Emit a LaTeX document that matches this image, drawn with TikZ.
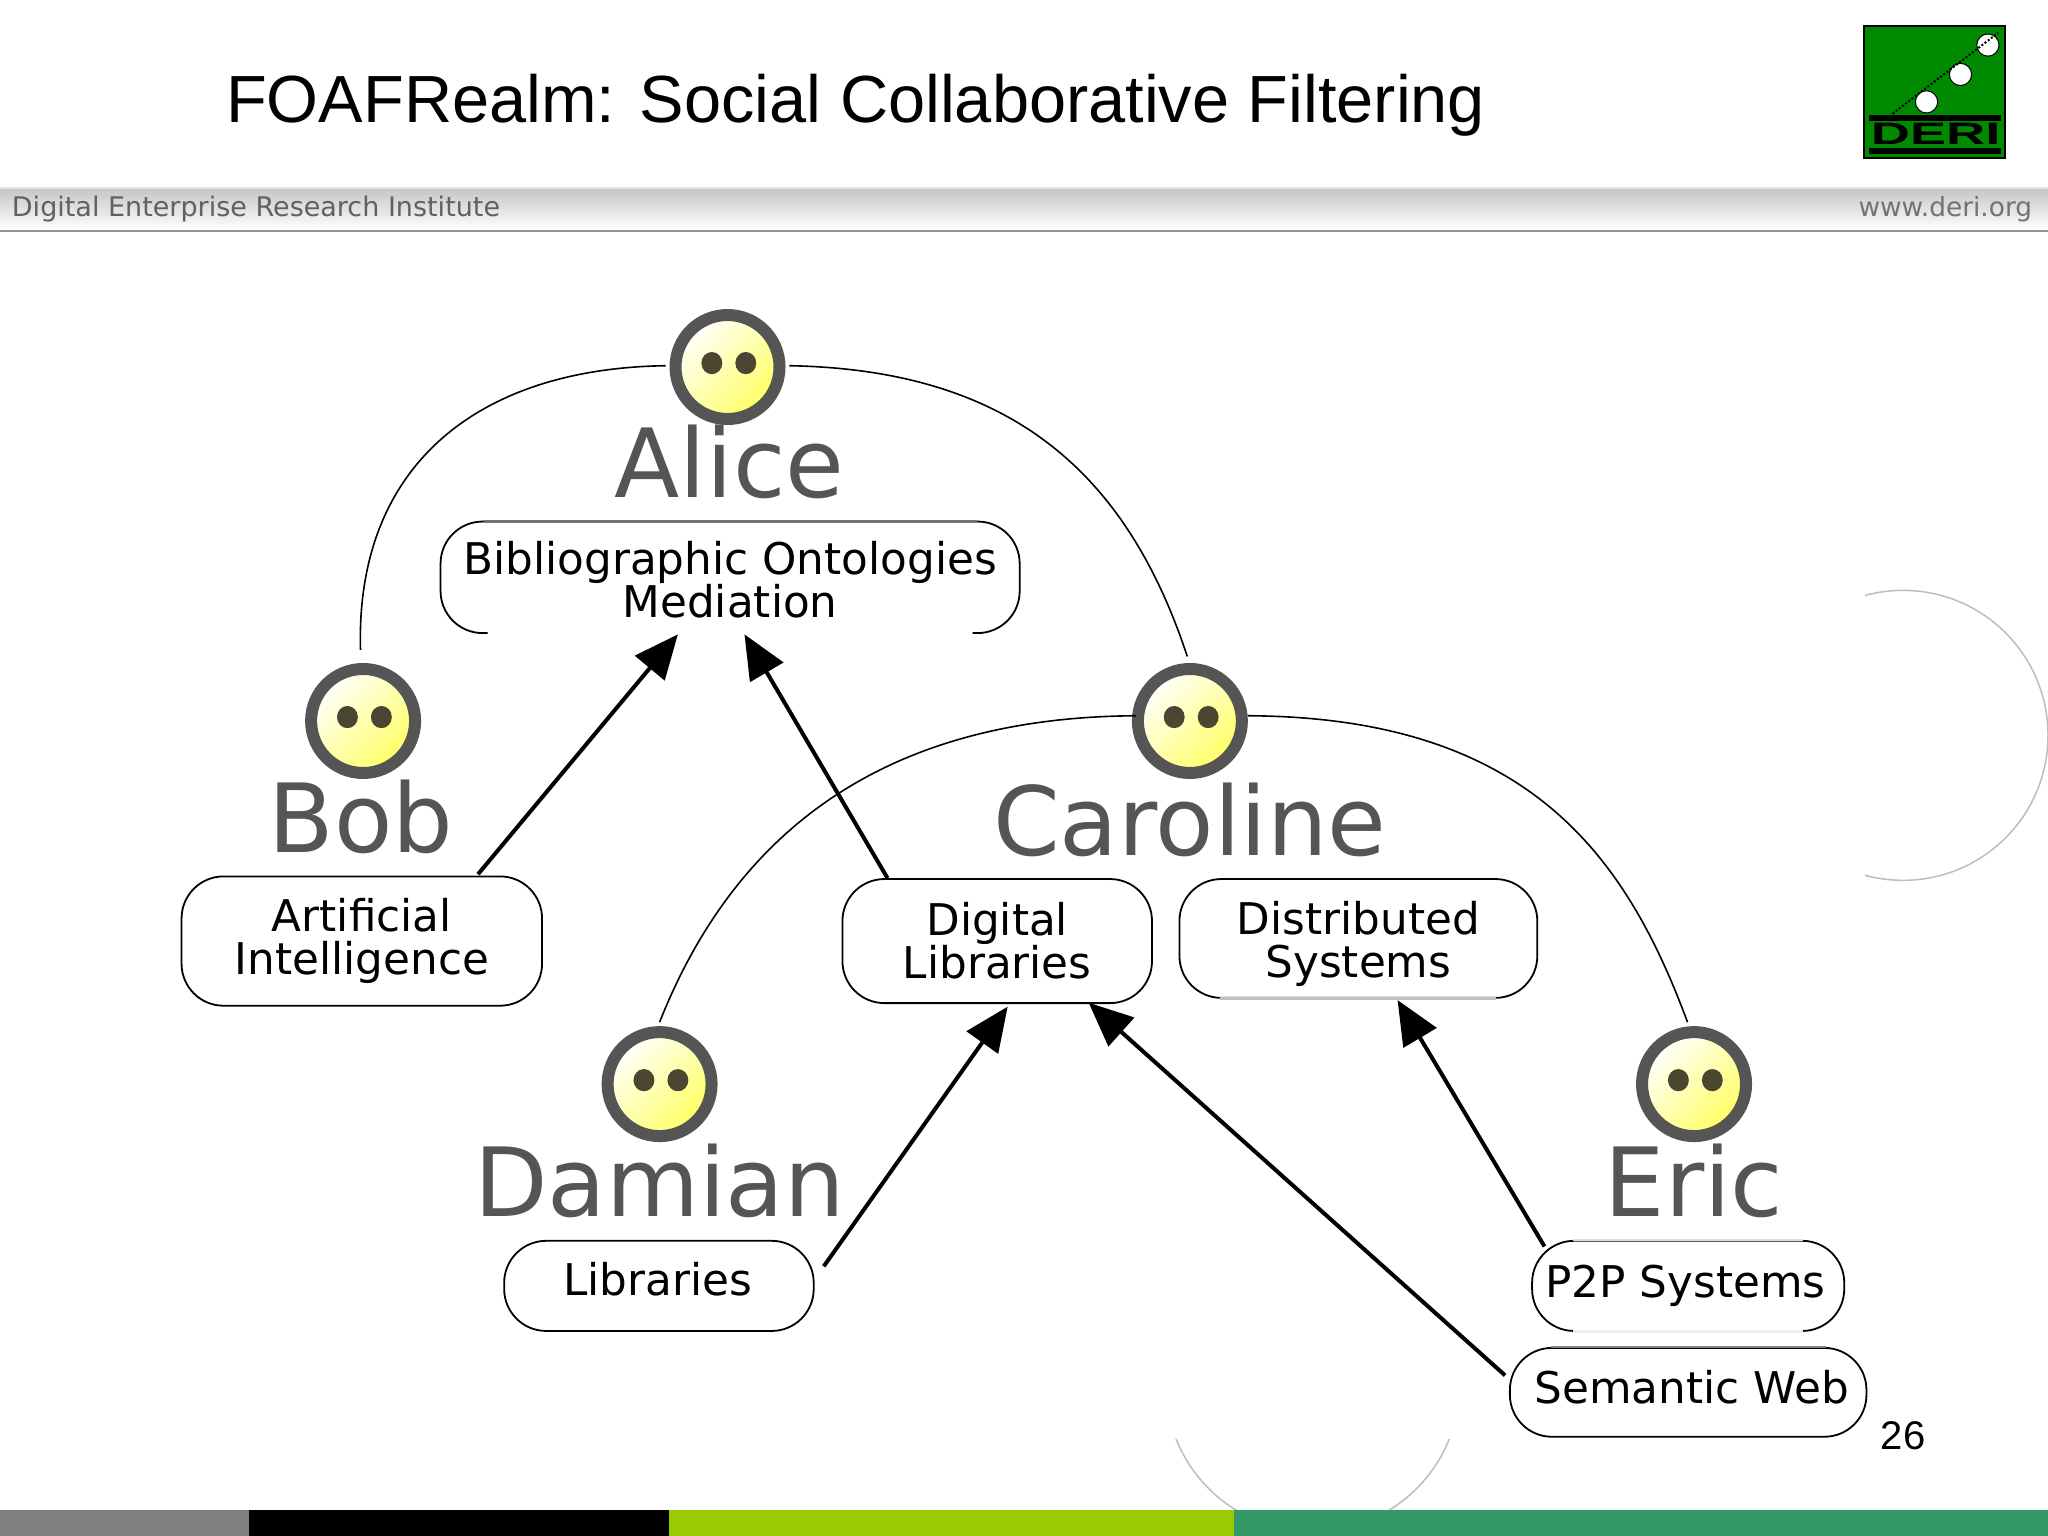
\documentclass[tikz,border=0pt]{standalone}
\usepackage{fontspec}
\setmainfont{Liberation Sans}
\newfontfamily\dejavu{DejaVu Sans}
\usetikzlibrary{arrows.meta,calc}
\definecolor{facegrey}{HTML}{555555}
\definecolor{eyecolor}{HTML}{4A4632}
\definecolor{footgrey}{HTML}{808080}
\definecolor{footlime}{HTML}{99CC00}
\definecolor{footgreen}{HTML}{339966}
\definecolor{logogreen}{HTML}{008A00}
\definecolor{arcgrey}{HTML}{BDBDBD}
\tikzset{
  face/.style={circle,draw=facegrey,line width=12pt,minimum size=104pt,inner sep=0pt,
    top color=white,bottom color=yellow!62!white,shading angle=45},
  eye/.style={fill=eyecolor,draw=none},
  who/.style={font=\dejavu\fontsize{95.5}{95.5}\selectfont,text=facegrey,inner sep=0pt,anchor=base},
  topic/.style={draw=black,line width=1.8pt,rounded corners=42pt,inner sep=0pt,align=center,
    font=\dejavu\fontsize{43.7}{43}\selectfont},
  knows/.style={draw=black,line width=1.6pt},
  interest/.style={draw=black,line width=4pt,-{Triangle[length=44pt,width=38pt]}},
  bgarc/.style={draw=arcgrey,line width=1.5pt},
  fadededge/.style={draw=black!#1,line width=2.8pt},
}
\newcommand{\smileyat}[3]{%
  \node[face] (#1) at (#2,#3) {};
  \fill[eye] (#2-12,#3-3) ellipse (8 and 8.5);
  \fill[eye] (#2+14,#3-3) ellipse (8 and 8.5);
}
\begin{document}
\begin{tikzpicture}[x=1.30612pt,y=-1.30612pt]
\useasboundingbox (0,0) rectangle (1568,1176);
\fill[white] (0,0) rectangle (1568,1176);
% background arcs
\begin{scope}
\clip (1428,440) rectangle (1568,690);
\draw[bgarc] (1457,563) circle (111);
\end{scope}
\begin{scope}
\clip (880,1102) rectangle (1130,1156);
\draw[bgarc] (1005,1060) circle (112.6);
\end{scope}
% header
\node[anchor=base west,inner sep=0pt,font=\fontsize{66.7}{66.7}\selectfont] (title) at (173,93.5) {FOAFRealm: Social Collaborative Filtering};
\shade[top color=black!22,bottom color=white] (0,145) rectangle (1568,176);
\fill[black!10] (0,143) rectangle (1568,145);
\fill[black!42] (0,176) rectangle (1568,178);
\node[anchor=base west,inner sep=0pt,text=black!62,font=\dejavu\fontsize{27}{27}\selectfont] (inst) at (9,166) {Digital Enterprise Research Institute};
\node[anchor=base east,inner sep=0pt,text=black!55,font=\dejavu\fontsize{26.4}{26.4}\selectfont] (www) at (1556,166) {www.deri.org};
% logo
\fill[logogreen,draw=black,line width=2pt] (1427,20) rectangle (1535,121);
\fill[black] (1431,88) rectangle (1532,93);
\fill[black] (1431,113) rectangle (1532,118);
\foreach \px/\py in {1522/34.5,1501/57,1475/78}{
  \fill[white,draw=black,line width=1pt] (\px,\py) circle (8.5);
}
\draw[black,line width=2pt,dotted] (1449,87) -- (1530,25);
\node[inner sep=0pt,xscale=1.75,font=\bfseries\fontsize{31}{31}\selectfont,anchor=base] (derilogo) at (1482,111) {DERI};
% footer
\fill[footgrey] (0,1156) rectangle (191,1176);
\fill[black] (191,1156) rectangle (512,1176);
\fill[footlime] (512,1156) rectangle (945,1176);
\fill[footgreen] (945,1156) rectangle (1568,1176);
\node[anchor=base,inner sep=0pt,font=\fontsize{40}{40}\selectfont] (pageno) at (1457,1110) {26};
% people
\smileyat{alice}{557}{281}
\smileyat{bob}{278}{552}
\smileyat{caroline}{911}{552}
\smileyat{damian}{505}{830}
\smileyat{eric}{1297}{830}
\node[who] (alicen) at (558.5,381) {Alice};
\node[who] (bobn) at (276.5,653) {Bob};
\node[who] (carolinen) at (911,655) {Caroline};
\node[who] (damiann) at (505,931) {Damian};
\node[who] (ericn) at (1297,931) {Eric};
% topics
\node[topic,draw=none,minimum width=442*1.30612pt,minimum height=84*1.30612pt] (bibl) at (559,442) {\rule{0pt}{38.4pt}Bibliographic Ontologies\\Mediation};
\draw[draw=black,line width=1.8pt,rounded corners=42pt]
  ($(bibl.south west)+(36,0)$) -- (bibl.south west) -- (bibl.north west) -- (bibl.north east) -- (bibl.south east) -- ($(bibl.south east)+(-36,0)$);
\node[topic,minimum width=276*1.30612pt,minimum height=99*1.30612pt] (ai) at (277,720.5) {Artificial\\Intelligence};
\node[topic,minimum width=237*1.30612pt,minimum height=95*1.30612pt] (dl) at (763.5,720.5) {Digital\\Libraries};
\node[topic,minimum width=274*1.30612pt,minimum height=91*1.30612pt] (ds) at (1040,718.5) {\rule{0pt}{43.6pt}Distributed\\Systems};
\node[topic,minimum width=237*1.30612pt,minimum height=69*1.30612pt] (lib) at (504.5,984.5) {\raisebox{13pt}{Libraries}\hspace*{3pt}};
\node[topic,minimum width=239*1.30612pt,minimum height=69*1.30612pt] (p2p) at (1292.5,984.5) {\raisebox{2.6pt}{P2P Systems}\hspace*{5pt}};
\node[topic,minimum width=273*1.30612pt,minimum height=68*1.30612pt] (sw) at (1292.5,1066) {\hspace*{7pt}\raisebox{10.4pt}{Semantic Web}};
% edges of the boxes that print faintly
\draw[fadededge=55] ($(bibl.north west)+(33,0)$) -- ($(bibl.north east)+(-33,0)$);
\draw[fadededge=14] ($(p2p.north west)+(32,0)$) -- ($(p2p.north east)+(-32,0)$);
\draw[fadededge=7] ($(p2p.south west)+(32,0)$) -- ($(p2p.south east)+(-32,0)$);
\draw[fadededge=50] ($(sw.north west)+(32,0)$) -- ($(sw.north east)+(-32,0)$);
\draw[fadededge=25] ($(ds.south west)+(32,0)$) -- ($(ds.south east)+(-32,0)$);
% knows arcs
\draw[knows] ($(alice.west)+(-3,-1)$) .. controls (365,282) and (272,357) .. ($(bob.north)+(-2,-10)$);
\draw[knows] ($(alice.east)+(3,-1)$) .. controls (772,283) and (862,360) .. ($(caroline.north)+(-2,-5)$);
\draw[knows] ($(caroline.west)+(3,-4)$) .. controls (689,549) and (567,626) .. ($(damian.north)+(0,-3)$);
\draw[knows] ($(caroline.east)+(0,-4)$) .. controls (1171,549) and (1245,656) .. ($(eric.north)+(-5,-3)$);
% interest arrows
\draw[interest] ($(ai.north)+(89,-1)$) -- ($(bibl.south)+(-40,1)$);
\draw[interest] ($(dl.north)+(-84,0)$) -- ($(bibl.south)+(11,1)$);
\draw[interest] ($(lib.east)+(7,-15)$) -- ($(dl.south)+(8,2)$);
\draw[interest] ($(sw.west)+(-3,-13)$) -- ($(dl.south)+(70,-1)$);
\draw[interest] ($(p2p.north)+(-110,5)$) -- ($(ds.south)+(30,1)$);
\end{tikzpicture}
\end{document}
